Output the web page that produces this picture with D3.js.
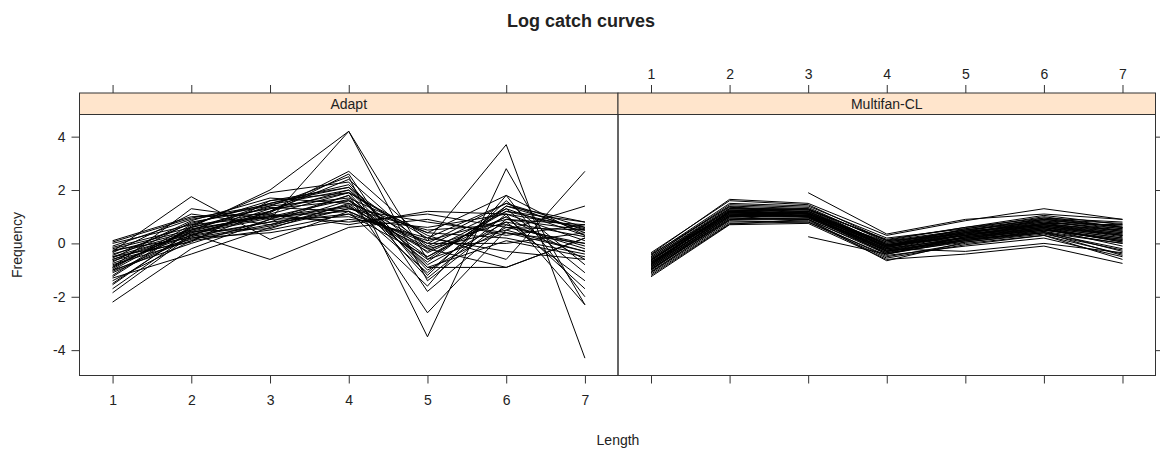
<!DOCTYPE html>
<html>
<head>
<meta charset="utf-8">
<script src="https://cdn.jsdelivr.net/npm/d3@7"></script>
<style>
  body { margin: 0; background: #fff; }
  text { font-family: "Liberation Sans", Arial, sans-serif; fill: #222; }
</style>
</head>
<body>
<svg id="chart" width="1160" height="461"></svg>
<script>
// Log catch curves - two lattice panels

const lengths = [1, 2, 3, 4, 5, 6, 7];
const panels = ["Adapt", "Multifan-CL"];
const yTicks = [-4, -2, 0, 2, 4];

// one row per curve, value at each length
const adapt = [
  [-2.2, -0.2, 0.9, 4.2, -1.4, 0.9, 0.5],
  [-1.0, 0.6, 2.0, 4.2, -0.6, 0.4, -0.3],
  [-1.85, 0.3, 1.2, 2.7, 0.1, 3.7, -4.3],
  [-1.55, 0.5, 1.4, 2.5, -3.5, 2.8, -2.3],
  [0.1, 1.0, 1.1, 0.7, 1.2, 1.1, 0.6],
  [-0.3, 1.75, 0.15, 1.2, -1.6, 1.8, -2.0],
  [-0.5, 0.35, -0.6, 0.6, 0.9, 0.3, 0.7],
  [-0.9, 1.3, 0.9, 1.8, -2.6, 0.5, 1.4],
  [-0.2, 0.5, 1.5, 2.2, -0.9, -0.9, 0.2],
  [-0.7, 0.8, 1.3, 1.9, 0.3, -0.6, 2.7],
  [-1.1, 0.2, 0.7, 1.6, 0.0, 1.5, 0.4],
  [-0.4, 0.4, 1.0, 1.4, -0.3, 1.2, 0.8],
  [0.0, 0.7, 1.6, 2.1, -0.1, 1.3, 0.3],
  [-1.3, -0.4, 0.6, 1.3, 0.5, 0.7, -0.2],
  [-0.6, 0.3, 0.8, 1.1, -0.5, 1.0, -0.6],
  [-0.8, 0.1, 1.2, 2.0, -1.0, 0.6, 0.0],
  [-1.5, 0.45, 0.55, 1.5, -0.7, 1.4, 0.5],
  [-0.1, 0.9, 1.4, 1.7, 0.4, 0.2, -0.4],
  [-1.2, 0.65, 1.9, 2.3, -1.2, 1.6, -0.8],
  [-0.25, 0.2, 0.4, 0.9, 0.6, 1.1, 0.1],
  [-0.9, 0.55, 1.0, 1.2, -0.2, -0.9, 0.2],
  [-0.45, 0.75, 1.5, 2.1, -0.8, 0.8, -1.4],
  [-1.0, 0.0, 0.9, 1.0, 0.2, 1.5, 0.6],
  [-0.6, 0.4, 1.1, 1.9, -1.3, 1.1, -2.3],
  [-0.35, 1.1, 0.7, 1.3, 0.8, 0.4, 0.0],
  [-0.75, 0.3, 1.3, 1.6, -0.6, 1.3, -1.1],
  [-1.4, 0.1, 0.5, 1.1, 0.1, 0.9, 0.7],
  [-0.15, 0.6, 1.2, 2.4, -0.2, 0.5, -0.3],
  [-0.55, 0.85, 1.7, 1.5, 0.4, 1.8, 0.3],
  [-1.05, 0.25, 0.8, 1.8, -0.9, 0.1, -0.5],
  [-0.85, 0.5, 1.05, 0.8, 1.1, 0.6, 0.5],
  [0.05, 0.95, 1.45, 2.0, -0.35, 1.0, -1.7],
  [-0.65, 0.15, 0.65, 1.45, -1.1, 1.4, 0.8],
  [-1.25, 0.6, 1.35, 1.2, 0.0, 0.0, 0.4],
  [-0.3, 0.45, 1.15, 2.6, -1.8, 0.7, -0.1],
  [-0.95, 0.7, 1.0, 1.65, -0.5, 1.2, 0.55],
  [-0.5, 0.05, 1.6, 1.9, 0.2, -0.3, -0.6],
  [-1.7, 0.35, 0.95, 1.35, -0.15, 0.8, 0.25]
];

const multifan = [
  [-0.4, 1.65, 1.5, 0.3, 0.85, 1.3, 0.9],
  [-1.25, 0.7, 0.75, -0.6, -0.4, -0.1, -0.75],
  [-0.8, 1.2, 1.1, -0.1, 0.3, 0.7, 0.3],
  [-0.6, 1.3, 1.2, 0.0, 0.4, 0.8, 0.5],
  [-1.0, 0.9, 0.95, -0.3, 0.1, 0.5, 0.1],
  [-0.7, 1.1, 1.0, -0.2, 0.2, 0.6, 0.2],
  [-0.9, 1.0, 1.05, -0.4, 0.25, 0.55, -0.1],
  [-0.5, 1.4, 1.3, 0.1, 0.5, 0.9, 0.6],
  [-0.75, 1.15, 1.0, -0.15, 0.35, 0.7, 0.4],
  [-0.85, 1.05, 1.15, -0.25, 0.15, 0.45, 0.0],
  [-1.1, 0.8, 0.85, -0.5, 0.0, 0.3, -0.4],
  [-0.65, 1.25, 1.1, 0.05, 0.45, 0.75, 0.7],
  [-0.95, 0.95, 0.9, -0.35, 0.05, 0.4, -0.2],
  [-0.55, 1.35, 1.25, 0.15, 0.6, 0.95, 0.8],
  [-0.8, 1.1, 1.05, -0.1, 0.3, 0.65, 0.35],
  [-0.7, 1.2, 1.15, -0.05, 0.4, 0.85, 0.45],
  [-1.05, 0.85, 0.8, -0.45, -0.1, 0.2, -0.5],
  [-0.45, 1.5, 1.4, 0.2, 0.55, 1.0, 0.6],
  [-0.9, 1.0, 1.0, -0.2, 0.2, 0.5, 0.15],
  [-0.6, 1.15, 1.2, -0.15, 0.35, 0.65, 0.25],
  [-0.85, 1.05, 1.05, -0.3, 0.15, 0.55, 0.05],
  [-0.75, 1.2, 1.1, 0.0, 0.5, 0.8, 0.55],
  [-1.0, 0.95, 0.95, -0.25, 0.25, 0.6, 0.3],
  [-0.65, 1.3, 1.3, -0.05, 0.3, 0.75, 0.4],
  [-0.95, 0.9, 0.9, -0.4, 0.1, 0.45, -0.3],
  [-0.7, 1.1, 1.15, -0.1, 0.45, 0.7, 0.5],
  [-0.8, 1.05, 1.0, -0.2, 0.3, 0.6, 0.2],
  [-0.5, 1.45, 1.35, 0.05, 0.5, 0.85, 0.65],
  [-1.15, 0.75, 0.8, -0.55, -0.05, 0.3, -0.6],
  [-0.6, 1.25, 1.2, -0.1, 0.4, 0.7, 0.35],
  [-0.9, 1.0, 1.05, -0.3, 0.2, 0.5, 0.1],
  [-0.75, 1.15, 1.1, -0.15, 0.3, 0.65, 0.3],
  [null, null, 1.9, 0.35, 0.9, 1.1, 0.9],
  [null, null, 0.25, -0.4, 0.15, 0.4, 0.0],
  [-0.85, 1.1, 1.0, -0.2, -0.3, 0.0, -0.35],
  [-0.7, 1.2, 1.05, -0.1, 0.55, 0.9, 0.75],
  [-0.35, 1.6, 1.45, 0.1, 0.35, 0.9, 0.55],
  [-1.2, 0.72, 0.9, -0.65, 0.05, 0.35, -0.25],
  [-0.55, 1.3, 1.25, -0.05, 0.2, 0.55, 0.15],
  [-0.98, 1.02, 1.12, -0.15, 0.4, 0.75, 0.45],
  [-0.62, 1.18, 0.98, -0.35, 0.25, 0.6, 0.05],
  [-1.08, 0.88, 1.2, -0.05, 0.45, 0.95, 0.6],
  [-0.42, 1.38, 1.1, -0.28, 0.1, 0.4, -0.45],
  [-0.78, 1.22, 1.28, 0.12, 0.6, 1.05, 0.7]
];

const seriesByPanel = [adapt, multifan];

// ----- layout -----
const svg = d3.select("#chart");
const plotTop = 114.5, plotBottom = 375.5, stripTop = 93;
const panelX = [[79.5, 618], [618, 1155.5]];

const y = d3.scaleLinear().domain([-4.95, 4.83]).range([plotBottom, plotTop]);

svg.append("text")
  .attr("x", 581).attr("y", 27)
  .attr("text-anchor", "middle")
  .style("font-size", "18px").style("font-weight", "bold")
  .text("Log catch curves");

const line = d3.line()
  .defined(d => d.v != null)
  .x(d => d.xs(d.len))
  .y(d => y(d.v));

panels.forEach((name, i) => {
  const [x0, x1] = panelX[i];
  const x = d3.scaleLinear().domain([0.58, 7.42]).range([x0, x1]);
  const g = svg.append("g");

  // strip
  g.append("rect")
    .attr("x", x0).attr("y", stripTop)
    .attr("width", x1 - x0).attr("height", plotTop - stripTop)
    .attr("fill", "#ffe5cc").attr("stroke", "#333").attr("stroke-width", 1);
  g.append("text")
    .attr("x", (x0 + x1) / 2).attr("y", stripTop + 16)
    .attr("text-anchor", "middle")
    .style("font-size", "14px")
    .text(name);

  // curves
  g.append("g")
    .selectAll("path")
    .data(seriesByPanel[i])
    .join("path")
    .attr("d", row => line(row.map((v, k) => ({ v: v, len: lengths[k], xs: x }))))
    .attr("fill", "none")
    .attr("stroke", "#000")
    .attr("stroke-width", 1);

  // panel box
  g.append("rect")
    .attr("x", x0).attr("y", plotTop)
    .attr("width", x1 - x0).attr("height", plotBottom - plotTop)
    .attr("fill", "none").attr("stroke", "#333").attr("stroke-width", 1);

  // bottom axis (labels only on first panel)
  const axB = g.append("g")
    .attr("transform", `translate(0,${plotBottom})`)
    .call(d3.axisBottom(x).tickValues(lengths).tickSize(8).tickPadding(12)
      .tickFormat(i === 0 ? d => String(d) : () => ""));
  // top axis (labels only on second panel)
  const axT = g.append("g")
    .attr("transform", `translate(0,${stripTop})`)
    .call(d3.axisTop(x).tickValues(lengths).tickSize(8).tickPadding(6)
      .tickFormat(i === 1 ? d => String(d) : () => ""));
  [axB, axT].forEach(ax => {
    ax.select(".domain").remove();
    ax.selectAll("line").attr("stroke", "#333");
    ax.selectAll("text").style("font-size", "14px").attr("fill", "#222");
  });
});

// y axes: labelled on the left, ticks only on the right
const axL = svg.append("g")
  .attr("transform", `translate(${panelX[0][0]},0)`)
  .call(d3.axisLeft(y).tickValues(yTicks).tickSize(8).tickPadding(6)
    .tickFormat(d => String(d)));
const axR = svg.append("g")
  .attr("transform", `translate(${panelX[1][1]},0)`)
  .call(d3.axisRight(y).tickValues(yTicks).tickSize(8).tickFormat(() => ""));
[axL, axR].forEach(ax => {
  ax.select(".domain").remove();
  ax.selectAll("line").attr("stroke", "#333");
  ax.selectAll("text").style("font-size", "14px").attr("fill", "#222");
});

svg.append("text")
  .attr("transform", `translate(22,${(plotTop + plotBottom) / 2}) rotate(-90)`)
  .attr("text-anchor", "middle")
  .style("font-size", "14px")
  .text("Frequency");

svg.append("text")
  .attr("x", 618).attr("y", 445)
  .attr("text-anchor", "middle")
  .style("font-size", "14px")
  .text("Length");
</script>
</body>
</html>
